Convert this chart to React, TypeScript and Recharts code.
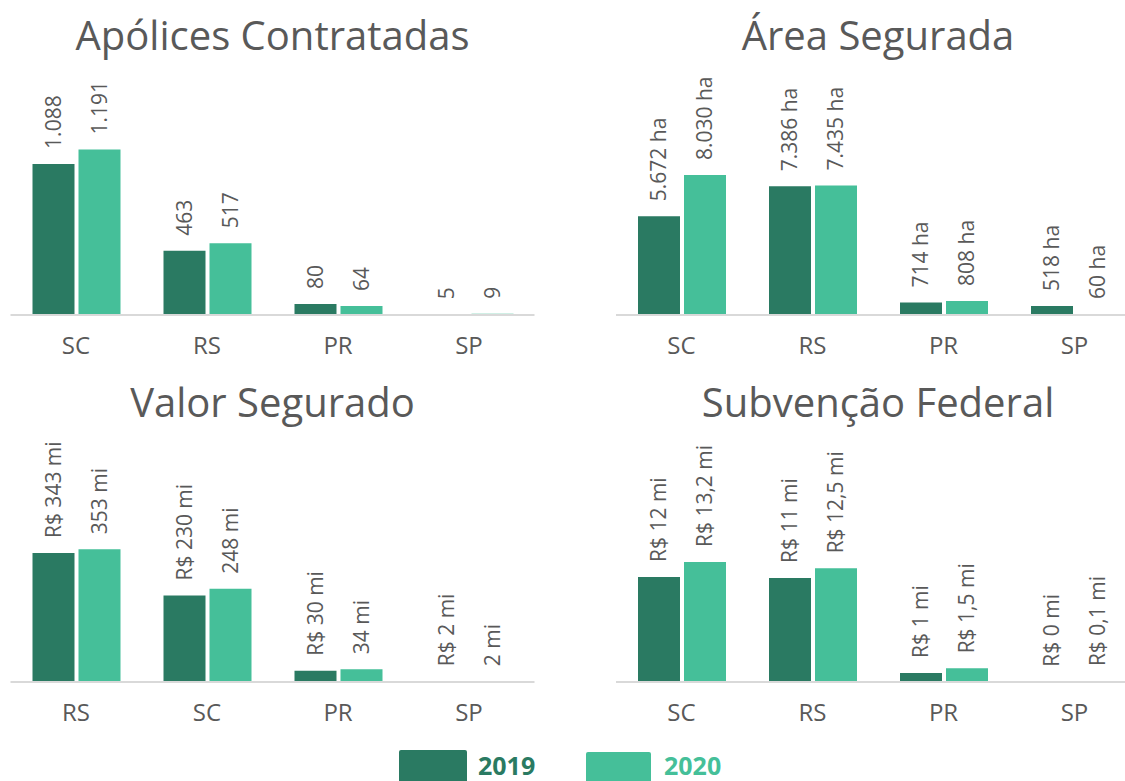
import { BarChart, Bar, XAxis, YAxis, LabelList } from 'recharts';

const seriesNames = ['2019', '2020'];
const seriesColors = ['#2a7a62', '#45bf99'];

const apolicesStates = ['SC', 'RS', 'PR', 'SP'];
const apolices2019 = [1088, 463, 80, 5];
const apolices2020 = [1191, 517, 64, 9];

const areaStates = ['SC', 'RS', 'PR', 'SP'];
const area2019 = [5672, 7386, 714, 518];
const area2020 = [8030, 7435, 808, 60];

const valorStates = ['RS', 'SC', 'PR', 'SP'];
const valor2019 = [343, 230, 30, 2];
const valor2020 = [353, 248, 34, 2];

const subvencaoStates = ['SC', 'RS', 'PR', 'SP'];
const subvencao2019 = [11.55, 11.45, 1.0, 0.04];
const subvencao2020 = [13.2, 12.5, 1.5, 0.1];

const FONT = "'Open Sans', sans-serif";
const GREY = '#595959';

const thousands = (v: number) => String(v).replace(/\B(?=(\d{3})+(?!\d))/g, '.');

const build = (states: string[], a: number[], b: number[]) =>
    states.map((s, i) => ({ state: s, y2019: a[i], y2020: b[i] }));

const makeLabel = (fmt: (v: number) => string) => (props: any) => {
    const vb = props.viewBox || props;
    const x = Number(vb.x) + Number(vb.width) / 2;
    const y = Number(vb.y) - 15;
    return (
        <text
            x={x}
            y={y}
            transform={`rotate(-90 ${x} ${y})`}
            textAnchor="start"
            dy="0.35em"
            fontSize={21}
            fill={GREY}
            fontFamily={FONT}
        >
            {fmt(Number(props.value))}
        </text>
    );
};

type PanelProps = {
    title: string;
    data: { state: string; y2019: number; y2020: number }[];
    max: number;
    left: number;
    top: number;
    marginLeft: number;
    marginRight: number;
    fmt2019: (v: number) => string;
    fmt2020: (v: number) => string;
};

const Panel = ({ title, data, max, left, top, marginLeft, marginRight, fmt2019, fmt2020 }: PanelProps) => {
    const plotWidth = 545 - marginLeft - marginRight;
    return (
        <div style={{ position: 'absolute', left, top, width: 545, height: 370 }}>
            <div
                style={{
                    position: 'absolute',
                    left: marginLeft,
                    top: 15,
                    width: plotWidth,
                    textAlign: 'center',
                    fontFamily: FONT,
                    fontSize: 40,
                    lineHeight: '40px',
                    color: GREY,
                    whiteSpace: 'nowrap',
                }}
            >
                {title}
            </div>
            <div style={{ position: 'absolute', left: 0, top: 0 }}>
                <BarChart
                    width={545}
                    height={370}
                    data={data}
                    margin={{ top: 65, right: marginRight, bottom: 15, left: marginLeft }}
                    barGap={4}
                >
                    <XAxis
                        dataKey="state"
                        interval={0}
                        height={40}
                        tickLine={false}
                        tickMargin={16}
                        axisLine={{ stroke: '#d9d9d9', strokeWidth: 2 }}
                        tick={{ fill: GREY, fontSize: 24, fontFamily: FONT }}
                    />
                    <YAxis hide domain={[0, max]} />
                    <Bar dataKey="y2019" fill={seriesColors[0]} barSize={42} isAnimationActive={false}>
                        <LabelList dataKey="y2019" content={makeLabel(fmt2019)} />
                    </Bar>
                    <Bar dataKey="y2020" fill={seriesColors[1]} barSize={42} isAnimationActive={false}>
                        <LabelList dataKey="y2020" content={makeLabel(fmt2020)} />
                    </Bar>
                </BarChart>
            </div>
        </div>
    );
};

const App = () => {
    return (
        <div
            style={{
                position: 'absolute',
                left: 0,
                top: 0,
                width: 1125,
                height: 781,
                overflow: 'hidden',
                background: '#fff',
            }}
        >
            <Panel
                title="Apólices Contratadas"
                data={build(apolicesStates, apolices2019, apolices2020)}
                max={1800}
                left={0}
                top={0}
                marginLeft={10.5}
                marginRight={10.5}
                fmt2019={thousands}
                fmt2020={thousands}
            />
            <Panel
                title="Área Segurada"
                data={build(areaStates, area2019, area2020)}
                max={14350}
                left={605}
                top={0}
                marginLeft={11}
                marginRight={10}
                fmt2019={(v) => `${thousands(v)} ha`}
                fmt2020={(v) => `${thousands(v)} ha`}
            />
            <Panel
                title="Valor Segurado"
                data={build(valorStates, valor2019, valor2020)}
                max={665}
                left={0}
                top={367}
                marginLeft={10.5}
                marginRight={10.5}
                fmt2019={(v) => `R$ ${v} mi`}
                fmt2020={(v) => `${v} mi`}
            />
            <Panel
                title="Subvenção Federal"
                data={build(subvencaoStates, subvencao2019, subvencao2020)}
                max={27.5}
                left={605}
                top={367}
                marginLeft={11}
                marginRight={10}
                fmt2019={(v) => `R$ ${Math.round(v)} mi`}
                fmt2020={(v) => `R$ ${v.toFixed(1).replace('.', ',')} mi`}
            />
            {/* shared legend, sits on the bottom edge like the original */}
            {seriesNames.map((name, i) => (
                <div key={name}>
                    <div
                        style={{
                            position: 'absolute',
                            left: i === 0 ? 399 : 586,
                            top: i === 0 ? 750 : 752,
                            width: i === 0 ? 68 : 65,
                            height: 40,
                            background: seriesColors[i],
                            borderRadius: 2,
                        }}
                    />
                    <div
                        style={{
                            position: 'absolute',
                            left: i === 0 ? 478 : 664,
                            top: 753,
                            fontFamily: FONT,
                            fontWeight: 700,
                            fontSize: 25,
                            lineHeight: '25px',
                            color: seriesColors[i],
                        }}
                    >
                        {name}
                    </div>
                </div>
            ))}
        </div>
    );
};

export default App;
